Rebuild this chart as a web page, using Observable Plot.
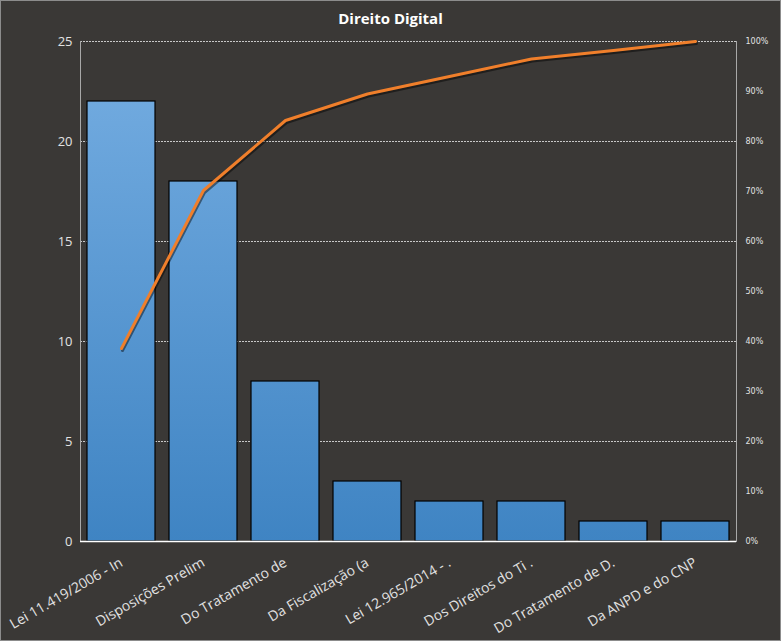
<!DOCTYPE html>
<html><head><meta charset="utf-8">
<script src="https://cdn.jsdelivr.net/npm/d3@7"></script>
<script src="https://cdn.jsdelivr.net/npm/@observablehq/plot@0.6"></script>
<style>
body{margin:0;background:#3a3836}
#chart svg{display:block;outline:1px solid #8c8c8c;outline-offset:-1px}
</style>
</head><body><div id="chart"></div>
<script>
const title = "Direito Digital";
const categories = ["Lei 11.419/2006 - In", "Disposições Prelim", "Do Tratamento de", "Da Fiscalização (a", "Lei 12.965/2014 - .", "Dos Direitos do Ti .", "Do Tratamento de D.", "Da ANPD e do CNP"];
const counts = [22, 18, 8, 3, 2, 2, 1, 1];
const cumulativePct = [38.6, 70.2, 84.2, 89.5, 93.0, 96.5, 98.2, 100];
const countTicks = [0, 5, 10, 15, 20, 25];
const gridTicks = [5, 10, 15, 20, 25];
const pctTicks = [0, 10, 20, 30, 40, 50, 60, 70, 80, 90, 100];
const countMax = 25;

const data = categories.map((c, i) => ({cat: c, count: counts[i], pct: cumulativePct[i]}));
const pctToCount = p => p * countMax / 100;

const plot = Plot.plot({
  width: 781, height: 641,
  marginLeft: 80, marginRight: 45, marginTop: 41, marginBottom: 100,
  style: {background: "#3a3836", color: "#e2e2e2", fontFamily: "'Open Sans', sans-serif"},
  x: {domain: categories, paddingInner: 0.17, paddingOuter: 0.085, label: null},
  y: {domain: [0, countMax], label: null},
  marks: [
    Plot.gridY(gridTicks, {stroke: "#d8d8d8", strokeOpacity: 0.9, strokeDasharray: "2,1", strokeWidth: 1}),
    Plot.frame({anchor: "left", stroke: "#a8a8a8"}),
    Plot.frame({anchor: "right", stroke: "#a8a8a8"}),
    Plot.barY(data, {x: "cat", y: "count", fill: "url(#barGrad)", stroke: "#000", strokeWidth: 1.2}),
    Plot.ruleY([0], {stroke: "#ffffff", strokeWidth: 1.5}),
    Plot.lineY(data, {x: "cat", y: d => pctToCount(d.pct), stroke: "rgba(0,0,0,0.45)", strokeWidth: 3, dx: 1, dy: 2}),
    Plot.lineY(data, {x: "cat", y: d => pctToCount(d.pct), stroke: "#f07f2b", strokeWidth: 3}),
    Plot.axisY(countTicks, {anchor: "left", tickSize: 0, tickPadding: 8, fontSize: 13, label: null}),
    Plot.axisY(pctTicks.map(pctToCount), {anchor: "right", tickSize: 0, tickPadding: 9, fontSize: 8, fontFamily: "DejaVu Sans", tickFormat: d => Math.round(d * 100 / countMax) + "%", label: null}),
    Plot.axisX({tickSize: 0, tickPadding: 20, tickRotate: -30, fontSize: 14, label: null}),
    Plot.text([title], {frameAnchor: "top", dx: -18, dy: -28, fontSize: 15, fontWeight: "bold", fill: "#ffffff", letterSpacing: 1.1})
  ]
});

const y = plot.scale("y");
const svg = d3.select(plot);
const grad = svg.insert("defs", ":first-child").append("linearGradient")
  .attr("id", "barGrad").attr("gradientUnits", "userSpaceOnUse")
  .attr("x1", 0).attr("x2", 0).attr("y1", y.apply(countMax)).attr("y2", y.apply(0));
grad.append("stop").attr("offset", "0%").attr("stop-color", "#76aee2");
grad.append("stop").attr("offset", "100%").attr("stop-color", "#3f84c3");

document.getElementById("chart").appendChild(plot);
</script>
</body></html>
